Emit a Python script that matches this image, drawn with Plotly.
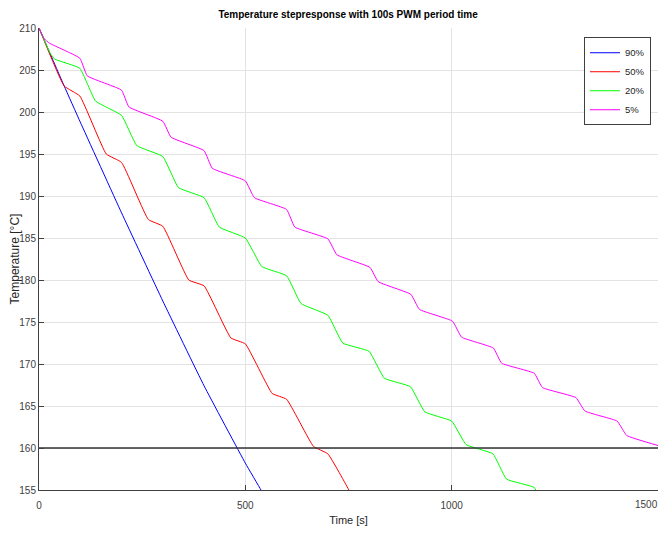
import plotly.graph_objects as go

# ---- data ----
t90 = [0, 61, 100, 200, 300, 400, 500, 538, 545]
T90 = [210, 203.1, 198.8, 188.0, 177.5, 167.4, 158.2, 155.0, 154.4]

t50 = [0, 61, 99, 163, 200, 265, 300, 363, 400, 465, 500, 565, 600, 665, 700, 752, 760]
T50 = [210, 203.1, 201.9, 195.0, 194.0, 187.2, 186.4, 180.0, 179.3, 173.1, 172.4,
       166.5, 165.8, 160.2, 159.3, 154.9, 154.0]

t20 = [0, 27, 38, 99, 137, 200, 237, 300, 338, 400, 437, 500, 540, 600, 635, 700,
       736, 800, 837, 900, 935, 1000, 1035, 1100, 1133, 1200, 1215]
T20 = [210, 207.0, 206.3, 205.2, 201.3, 199.6, 196.0, 194.7, 191.0, 189.8, 186.3,
       185.0, 181.6, 180.5, 177.2, 175.8, 172.5, 171.5, 168.3, 167.3, 164.3, 163.2,
       160.4, 159.3, 156.3, 155.3, 153.8]

t5 = [0, 13, 25, 99, 117, 200, 218, 300, 320, 400, 420, 500, 522, 600, 620, 700, 722,
      802, 822, 901, 922, 1002, 1024, 1101, 1121, 1200, 1220, 1301, 1323, 1401, 1424, 1500]
T5 = [210, 208.7, 208.2, 206.4, 204.3, 202.6, 200.6, 198.9, 197.0, 195.4, 193.3, 191.8,
      189.8, 188.4, 186.3, 184.9, 183.0, 181.5, 179.8, 178.3, 176.5, 175.1, 173.2, 171.9,
      170.1, 168.9, 167.2, 166.0, 164.4, 163.2, 161.5, 160.3]

threshold = 160
x_ticks = [0, 500, 1000, 1500]
x_ticktext = ["0", "500", "1000", ""]   # last label drawn right-aligned below
series = [("90%", t90, T90, "#0000ff"), ("50%", t50, T50, "#ff0000"),
          ("20%", t20, T20, "#00ff00"), ("5%", t5, T5, "#ff00ff")]

SANS = "Liberation Sans, Arial, sans-serif"

fig = go.Figure()
for name, tx, ty, col in series:
    fig.add_trace(go.Scatter(x=tx, y=ty, mode="lines", name=name,
                             line=dict(color=col, width=1, shape="spline", smoothing=0.35)))

fig.add_trace(go.Scatter(x=[x_ticks[0], x_ticks[-1]], y=[threshold, threshold], mode="lines",
                         line=dict(color="#333333", width=1.5), showlegend=False,
                         hoverinfo="skip"))

# last x tick label, kept fully inside the visible page
fig.add_annotation(x=x_ticks[-1], y=0, xref="x", yref="paper", text=str(x_ticks[-1]),
                   showarrow=False, xanchor="right", yanchor="top", yshift=-7, xshift=2,
                   font=dict(family=SANS, size=10, color="#404040"))

# the page body has an 8px default margin; the figure is sized so the page does not scroll
fig.update_layout(
    width=659, height=518,
    margin=dict(l=31, r=9, t=20, b=36),
    paper_bgcolor="white", plot_bgcolor="white",
    font=dict(family=SANS, size=10, color="#404040"),
    title=dict(text="<b>Temperature stepresponse with 100s PWM period time</b>",
               x=0.516, xanchor="center", y=0.9865, yanchor="middle",
               font=dict(family=SANS, size=10, color="#000000")),
    showlegend=True,
    legend=dict(x=0.9887, xanchor="right", y=0.98, yanchor="top",
                bgcolor="white", bordercolor="#404040", borderwidth=1,
                font=dict(family=SANS, size=9.5, color="#262626"),
                tracegroupgap=0, itemwidth=30),
)
fig.update_xaxes(range=[0, 1500], tickvals=x_ticks, ticktext=x_ticktext, showgrid=True,
                 gridcolor="#e3e3e3", gridwidth=1, showline=True, linecolor="#404040",
                 linewidth=1, ticks="inside", ticklen=5, tickcolor="#404040", zeroline=False,
                 automargin=False, ticklabelstandoff=6,
                 title=dict(text="Time [s]", font=dict(family=SANS, size=11, color="#262626"),
                            standoff=6))
fig.update_yaxes(range=[155, 210], dtick=5, showgrid=True, gridcolor="#e3e3e3",
                 gridwidth=1, showline=True, linecolor="#404040", linewidth=1,
                 ticks="inside", ticklen=5, tickcolor="#404040", zeroline=False,
                 automargin=False, ticklabeloverflow="allow",
                 title=dict(text="Temperature [°C]",
                            font=dict(family=SANS, size=12, color="#262626"), standoff=3))

fig.write_html("out.html")
